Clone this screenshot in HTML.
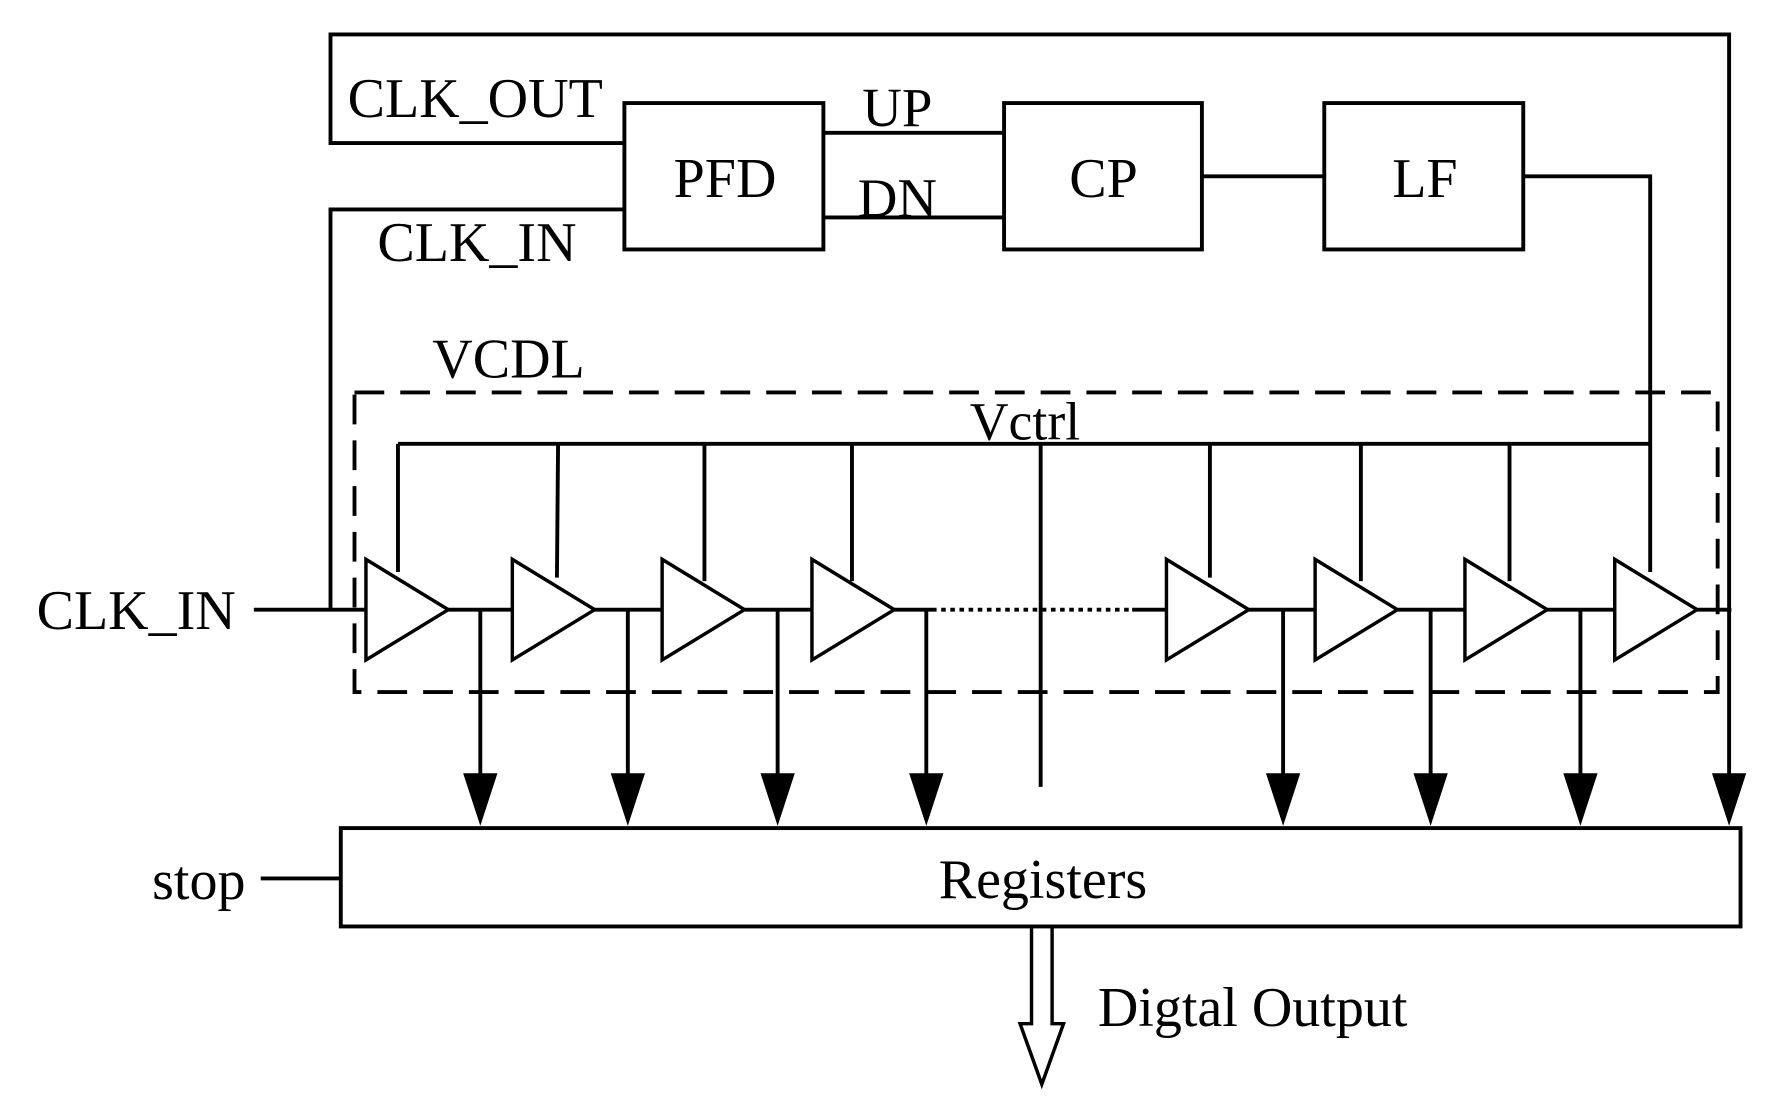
<!DOCTYPE html>
<html><head><meta charset="utf-8"><style>html,body{margin:0;padding:0;background:#fff}svg{display:block}</style></head>
<body>
<svg width="1792" height="1113" viewBox="0 0 1567 973" xmlns="http://www.w3.org/2000/svg" font-family="Liberation Serif, serif" fill="none" stroke="#000" stroke-width="3.4">
<polyline points="546,125 289,125 289,30 1512,30 1512,680"/>
<polyline points="546,183 289,183 289,533"/>
<rect x="546" y="90" width="174" height="128"/>
<rect x="878" y="90" width="173" height="128"/>
<rect x="1158" y="90" width="174" height="128"/>
<line x1="720" y1="116" x2="878" y2="116"/>
<line x1="720" y1="190" x2="878" y2="190"/>
<line x1="1051" y1="154" x2="1158" y2="154"/>
<polyline points="1332,154 1443,154 1443,500"/>
<rect x="310" y="343" width="1192" height="262" stroke-dasharray="26,14"/>
<line x1="348" y1="388" x2="1443" y2="388"/>
<line x1="348" y1="388" x2="348" y2="500"/>
<line x1="488" y1="388" x2="487" y2="505"/>
<line x1="616" y1="388" x2="616" y2="508"/>
<line x1="745" y1="388" x2="745" y2="508"/>
<line x1="910" y1="388" x2="910" y2="688"/>
<line x1="1058" y1="388" x2="1058" y2="505"/>
<line x1="1190" y1="388" x2="1190" y2="508"/>
<line x1="1320" y1="388" x2="1320" y2="508"/>
<g stroke-width="3">
<polygon points="320,489 320,577 392,533"/>
<polygon points="448,489 448,577 520,533"/>
<polygon points="579,489 579,577 651,533"/>
<polygon points="710,489 710,577 782,533"/>
<polygon points="1020,489 1020,577 1092,533"/>
<polygon points="1150,489 1150,577 1222,533"/>
<polygon points="1281,489 1281,577 1353,533"/>
<polygon points="1412,489 1412,577 1484,533"/>
</g>
<line x1="222" y1="533" x2="320" y2="533"/>
<line x1="392" y1="533" x2="448" y2="533"/>
<line x1="520" y1="533" x2="579" y2="533"/>
<line x1="651" y1="533" x2="710" y2="533"/>
<line x1="782" y1="533" x2="815" y2="533"/>
<line x1="815" y1="533" x2="990" y2="533" stroke-dasharray="4,4"/>
<line x1="990" y1="533" x2="1020" y2="533"/>
<line x1="1092" y1="533" x2="1150" y2="533"/>
<line x1="1222" y1="533" x2="1281" y2="533"/>
<line x1="1353" y1="533" x2="1412" y2="533"/>
<line x1="1484" y1="533" x2="1514" y2="533"/>
<g>
<line x1="420" y1="533" x2="420" y2="680"/>
<line x1="549" y1="533" x2="549" y2="680"/>
<line x1="680" y1="533" x2="680" y2="680"/>
<line x1="810" y1="533" x2="810" y2="680"/>
<line x1="1122" y1="533" x2="1122" y2="680"/>
<line x1="1251" y1="533" x2="1251" y2="680"/>
<line x1="1382" y1="533" x2="1382" y2="680"/>
</g>
<g fill="#000" stroke="none">
<polygon points="405,676 435,676 420,722"/>
<polygon points="534,676 564,676 549,722"/>
<polygon points="665,676 695,676 680,722"/>
<polygon points="795,676 825,676 810,722"/>
<polygon points="1107,676 1137,676 1122,722"/>
<polygon points="1236,676 1266,676 1251,722"/>
<polygon points="1367,676 1397,676 1382,722"/>
<polygon points="1497,676 1527,676 1512,722"/>
</g>
<rect x="298" y="724" width="1224" height="86"/>
<line x1="228" y1="768" x2="298" y2="768"/>
<polyline points="902,810 902,895 892,895 911,948 930,895 920,895 920,810" stroke-width="3"/>
<g fill="#000" stroke="none" font-size="49">
<text x="304" y="102">CLK_OUT</text>
<text x="330" y="228">CLK_IN</text>
<text x="634" y="172" text-anchor="middle">PFD</text>
<text x="965" y="172" text-anchor="middle">CP</text>
<text x="1246" y="172" text-anchor="middle">LF</text>
<text x="754" y="110" font-size="48">UP</text>
<text x="750" y="189" font-size="48">DN</text>
<text x="378" y="330">VCDL</text>
<text x="848" y="384" font-size="47">Vctrl</text>
<text x="32" y="550">CLK_IN</text>
<text x="133" y="786">stop</text>
<text x="912" y="785" text-anchor="middle">Registers</text>
<text x="960" y="897">Digtal Output</text>
</g>
</svg>
</body></html>
